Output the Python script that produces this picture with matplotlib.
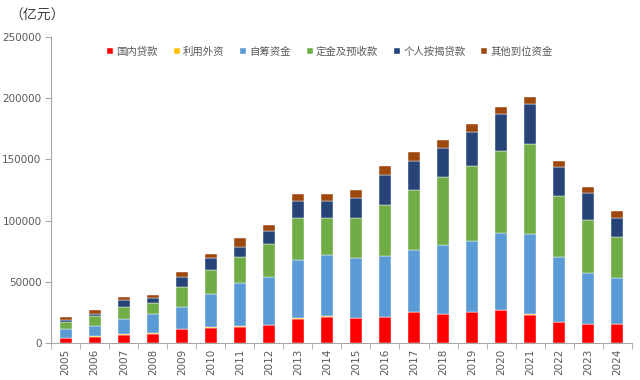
import numpy as np
import matplotlib.pyplot as plt

plt.rcParams['font.family'] = ['Noto Sans CJK SC', 'DejaVu Sans']

years = [str(y) for y in range(2005, 2025)]

# 亿元
domestic_loans = [3918, 5357, 7016, 7606, 11365, 12564, 13057, 14778, 19673, 21243,
                  20214, 21512, 25242, 24005, 25229, 26676, 23296, 17388, 15595, 15217]
foreign_capital = [258, 400, 641, 728, 479, 791, 785, 402, 534, 639,
                   297, 140, 168, 108, 176, 192, 107, 78, 47, 32]
self_raised = [7000, 8597, 11773, 15312, 17906, 26637, 35005, 39082, 47425, 50420,
               49038, 49133, 50872, 55831, 58158, 63377, 65428, 52940, 41989, 37746]
deposits = [6200, 7900, 10000, 9300, 16217, 19969, 21610, 26558, 34499, 30238,
            32520, 41952, 48694, 55418, 61359, 66547, 73946, 49289, 43202, 33571]
mortgages = [1600, 1600, 5800, 3500, 8403, 9524, 8360, 10524, 14033, 13665,
             16662, 24403, 23906, 23706, 27281, 29976, 32388, 23815, 21489, 15661]
other_funds = [2422, 3236, 2248, 3173, 3429, 3459, 6872, 5193, 5958, 5786,
               6472, 7074, 7171, 6895, 6406, 6347, 5967, 5469, 5137, 5434]

series = [
    ("国内贷款", domestic_loans, "#FF0000"),
    ("利用外资", foreign_capital, "#FFC000"),
    ("自筹资金", self_raised, "#5B9BD5"),
    ("定金及预收款", deposits, "#70AD47"),
    ("个人按揭贷款", mortgages, "#264478"),
    ("其他到位资金", other_funds, "#9E480E"),
]

fig = plt.figure(figsize=(6.4, 3.8), dpi=100)
ax = fig.add_axes([0.08, 0.097, 0.907, 0.806])

x = np.arange(len(years))
bottom = np.zeros(len(years))
for name, vals, color in series:
    vals = np.array(vals, dtype=float)
    ax.bar(x, vals, width=0.42, bottom=bottom, color=color, label=name,
           edgecolor="white", linewidth=0.3)
    bottom += vals

grey = "#595959"
ax.set_xlim(-0.48, len(years) - 0.5)
ax.set_ylim(0, 250000)
ax.set_yticks(np.arange(0, 250001, 50000))
ax.set_yticklabels([str(v) for v in range(0, 250001, 50000)], fontsize=7.5, color=grey,
                   family="DejaVu Sans")

ax.set_xticks(x)
ax.set_xticklabels(years, rotation=90, fontsize=7.5, color=grey, family="DejaVu Sans")
ax.tick_params(axis="x", length=0, pad=4)
ax.set_xticks(np.arange(-0.5, len(years), 1), minor=True)
ax.tick_params(axis="x", which="minor", length=4, color="#A6A6A6", direction="out")
ax.tick_params(axis="y", length=4, color="#A6A6A6", direction="out", pad=3)

for side in ["top", "right"]:
    ax.spines[side].set_visible(False)
for side in ["left", "bottom"]:
    ax.spines[side].set_color("#A6A6A6")

fig.text(0.015, 0.958, "（亿元）", fontsize=10, color="#404040", va="center")

leg = ax.legend(loc="upper center", bbox_to_anchor=(0.48, 1.0), ncol=6, frameon=False,
                fontsize=7.5, handlelength=0.6, handleheight=0.6, handletextpad=0.3,
                columnspacing=1.5)
for t in leg.get_texts():
    t.set_color(grey)

fig.savefig("out.png", dpi=100)
